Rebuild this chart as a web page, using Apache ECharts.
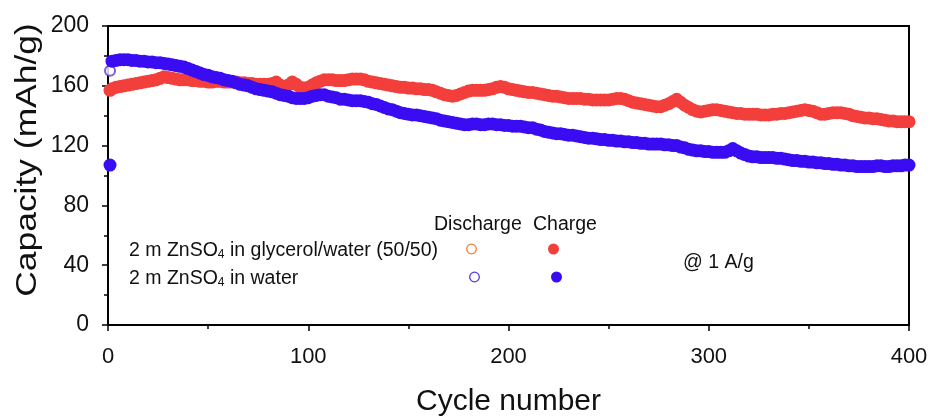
<!DOCTYPE html>
<html>
<head>
<meta charset="utf-8">
<script src="https://cdn.jsdelivr.net/npm/echarts@6/dist/echarts.min.js"></script>
<style>
  html, body { margin: 0; padding: 0; background: #fff; }
  #chart { width: 933px; height: 419px; }
</style>
</head>
<body>
<div id="chart"></div>
<script>
// Cycle numbers at which capacities were sampled
const cycles = [1,
  2, 4, 6, 8, 10, 12, 14, 16, 18, 20,
  22, 24, 26, 28, 30, 32, 34, 36, 38, 40,
  42, 44, 46, 48, 50, 52, 54, 56, 58, 60,
  62, 64, 66, 68, 70, 72, 74, 76, 78, 80,
  82, 84, 86, 88, 90, 92, 94, 96, 98, 100,
  102, 104, 106, 108, 110, 112, 114, 116, 118, 120,
  122, 124, 126, 128, 130, 132, 134, 136, 138, 140,
  142, 144, 146, 148, 150, 152, 154, 156, 158, 160,
  162, 164, 166, 168, 170, 172, 174, 176, 178, 180,
  182, 184, 186, 188, 190, 192, 194, 196, 198, 200,
  202, 204, 206, 208, 210, 212, 214, 216, 218, 220,
  222, 224, 226, 228, 230, 232, 234, 236, 238, 240,
  242, 244, 246, 248, 250, 252, 254, 256, 258, 260,
  262, 264, 266, 268, 270, 272, 274, 276, 278, 280,
  282, 284, 286, 288, 290, 292, 294, 296, 298, 300,
  302, 304, 306, 308, 310, 312, 314, 316, 318, 320,
  322, 324, 326, 328, 330, 332, 334, 336, 338, 340,
  342, 344, 346, 348, 350, 352, 354, 356, 358, 360,
  362, 364, 366, 368, 370, 372, 374, 376, 378, 380,
  382, 384, 386, 388, 390, 392, 394, 396, 398, 400];

// Charge capacity, 2 m ZnSO4 in glycerol/water (50/50), mAh/g
const chargeGlycerol = [157,
  158, 159, 159.5, 160, 160.5, 161, 161.5, 162, 162.5, 163,
  163.5, 164, 165, 166, 165.5, 165, 164.5, 164, 164, 164,
  163.5, 163.5, 163, 163, 162.5, 162.5, 163, 163, 162.5, 162.5,
  162.5, 162.5, 162, 162, 161.5, 161.5, 161, 161, 161, 161,
  161.5, 162.5, 160.5, 159, 160.5, 162.5, 161, 159, 158.5, 159,
  160.5, 162, 163, 164, 164, 164, 163.5, 163.5, 163.5, 164,
  164.5, 164.5, 164.5, 164, 163, 162.5, 162, 161.5, 161, 160.5,
  160, 159.5, 159, 159, 158.5, 158.5, 158, 158, 157.5, 157.5,
  157, 156, 155, 154, 153.5, 153, 153.5, 154.5, 155.5, 156.5,
  157, 157, 157, 157, 157.5, 158, 159, 159.5, 159, 158,
  157.5, 157, 156.5, 156, 155.5, 155.5, 155, 154.5, 154, 153.5,
  153, 153, 152.5, 152, 151.5, 151.5, 151.5, 151.5, 151, 151,
  150.5, 150.5, 150.5, 150.5, 150.5, 151, 151.5, 151.5, 151, 150,
  149, 148.5, 148, 147.5, 147, 146.5, 146, 146, 147, 148,
  149.5, 151, 149, 147, 145.5, 144, 143, 142.5, 143, 143.5,
  144, 144, 143.5, 143, 142.5, 142, 141.5, 141.5, 141, 141,
  141, 141, 140.5, 140.5, 140.5, 141, 141, 141.5, 141.5, 142,
  142.5, 143, 143.5, 144, 143.5, 143, 142, 141, 141, 141.5,
  142, 142, 142, 141.5, 141, 140, 139.5, 139, 138.5, 138.5,
  138, 138, 137.5, 137, 136.5, 136.5, 136, 136, 136, 136];

// Charge capacity, 2 m ZnSO4 in water, mAh/g
const chargeWater = [107,
  176.5, 177, 177.5, 177.5, 177.5, 177, 177, 176.5, 176.5, 176,
  176, 175.5, 175.5, 175, 174.5, 174, 173.5, 173, 172.5, 171.5,
  170.5, 169.5, 168.5, 167.5, 167, 166, 165.5, 165, 164, 163.5,
  163, 162, 161, 160.5, 160, 159, 158, 157.5, 157, 156.5,
  156, 155, 154, 153.5, 153, 152, 151.5, 151.5, 151.5, 152,
  153, 153.5, 154, 154, 153, 152.5, 152, 151, 151, 150.5,
  150, 150, 150, 149.5, 149, 148, 147.5, 146.5, 145.5, 144.5,
  144, 143, 142, 141.5, 141, 140.5, 140.5, 140, 139.5, 139,
  138.5, 138, 137, 136.5, 136, 135.5, 135, 134.5, 134, 134,
  134.5, 134.5, 134, 134, 134.5, 134.5, 134, 134, 133.5, 133.5,
  133, 133, 133, 132.5, 132, 132, 131, 130.5, 129.5, 129,
  128.5, 128, 128, 127.5, 127, 127, 126.5, 126, 125.5, 125,
  125, 124.5, 124, 124, 123.5, 123.5, 123, 123, 122.5, 122.5,
  122, 122, 121.5, 121.5, 121, 121, 121, 121, 120.5, 120.5,
  120, 120, 119, 118.5, 117.5, 117, 116.5, 116.5, 116, 116,
  115.5, 115.5, 115.5, 115.5, 116.5, 118, 116.5, 115, 114, 113,
  112.5, 112.5, 112, 112, 112, 112, 111.5, 111.5, 111, 110.5,
  110, 110, 109.5, 109.5, 109, 109, 108.5, 108.5, 108, 108,
  107.5, 107.5, 107, 107, 106.5, 106.5, 106, 106, 106, 106,
  106, 106.5, 106.5, 106, 106, 106.5, 106.5, 106.5, 107, 107];

// First-cycle discharge capacities
const dischargeCycles = [1];
const dischargeGlycerol = [157];
const dischargeWater = [170];

// Axis ticks
const xTicks = [0, 100, 200, 300, 400];
const yTicks = [0, 40, 80, 120, 160, 200];

const RED = '#f33f3c';
const BLUE = '#3a0cf2';
const ORANGE = '#ee7f33';
const PURPLE = '#5a35e0';
const FONT = 'Liberation Sans, Arial, sans-serif';

const pairs = (xs, ys) => xs.map((x, i) => [x, ys[i]]);

const chart = echarts.init(document.getElementById('chart'), null, { renderer: 'canvas' });

const axisCommon = {
  axisLine: { onZero: false, lineStyle: { color: '#000', width: 2 } },
  axisTick: { inside: false, length: 6, lineStyle: { color: '#000', width: 1.5 } },
  minorTick: { show: true, splitNumber: 2, length: 4, lineStyle: { color: '#000', width: 1.5 } },
  splitLine: { show: false }
};

const subStyle = { fontSize: 12, fontFamily: FONT, fill: '#111', verticalAlign: 'bottom', padding: [8, 0, 0, 0] };

chart.setOption({
  backgroundColor: '#fff',
  animation: false,
  grid: {
    left: 108, right: 24, top: 26, bottom: 94,
    outerBoundsMode: 'none', containLabel: false,
    show: true, borderColor: '#000', borderWidth: 2, backgroundColor: 'transparent'
  },
  xAxis: Object.assign({
    type: 'value',
    min: xTicks[0],
    max: xTicks[xTicks.length - 1],
    interval: xTicks[1] - xTicks[0],
    name: 'Cycle number',
    nameLocation: 'middle',
    nameGap: 62,
    nameTextStyle: { fontFamily: FONT, fontSize: 30, color: '#111' },
    axisLabel: { fontFamily: FONT, fontSize: 22, color: '#111', margin: 21 }
  }, axisCommon),
  yAxis: Object.assign({
    type: 'value',
    min: yTicks[0],
    max: yTicks[yTicks.length - 1],
    interval: yTicks[1] - yTicks[0],
    axisLabel: { fontFamily: FONT, fontSize: 23, color: '#111', margin: 19 }
  }, axisCommon),
  series: [
    {
      name: 'Discharge glycerol/water',
      type: 'scatter',
      data: pairs(dischargeCycles, dischargeGlycerol),
      symbol: 'emptyCircle',
      symbolSize: 10,
      itemStyle: { color: ORANGE, borderColor: ORANGE, borderWidth: 1.2 },
      z: 1
    },
    {
      name: 'Discharge water',
      type: 'scatter',
      data: pairs(dischargeCycles, dischargeWater),
      symbol: 'emptyCircle',
      symbolSize: 10,
      itemStyle: { color: PURPLE, borderColor: PURPLE, borderWidth: 1.2 },
      z: 1
    },
    {
      name: 'Charge glycerol/water',
      type: 'scatter',
      data: pairs(cycles, chargeGlycerol),
      symbolSize: 13,
      itemStyle: { color: RED, opacity: 1 },
      z: 2
    },
    {
      name: 'Charge water',
      type: 'scatter',
      data: pairs(cycles, chargeWater),
      symbolSize: 13,
      itemStyle: { color: BLUE, opacity: 1 },
      z: 3
    }
  ],
  graphic: [
    {
      // y-axis title, drawn rotated
      type: 'text', x: 28, y: 160, rotation: Math.PI / 2, scaleX: 1.18,
      style: { text: 'Capacity (mAh/g)', font: '30px ' + FONT, fill: '#111', align: 'center', verticalAlign: 'middle' }
    },
    {
      type: 'text', left: 129, top: 241,
      style: {
        text: '2 m ZnSO{sub|4} in glycerol/water (50/50)',
        font: '19.5px ' + FONT, fill: '#111',
        rich: { sub: subStyle }
      }
    },
    {
      type: 'text', left: 129, top: 269,
      style: {
        text: '2 m ZnSO{sub|4} in water',
        font: '19.5px ' + FONT, fill: '#111',
        rich: { sub: subStyle }
      }
    },
    { type: 'text', left: 434, top: 215, style: { text: 'Discharge', font: '19.5px ' + FONT, fill: '#111' } },
    { type: 'text', left: 533, top: 215, style: { text: 'Charge', font: '19.5px ' + FONT, fill: '#111' } },
    { type: 'text', left: 683, top: 253, style: { text: '@ 1 A/g', font: '19.5px ' + FONT, fill: '#111' } },
    { type: 'circle', shape: { cx: 471.5, cy: 249, r: 4.8 }, style: { fill: '#fff', stroke: ORANGE, lineWidth: 1.3 } },
    { type: 'circle', shape: { cx: 474.5, cy: 277, r: 4.8 }, style: { fill: '#fff', stroke: PURPLE, lineWidth: 1.3 } },
    { type: 'circle', shape: { cx: 553.5, cy: 249, r: 5.5 }, style: { fill: RED } },
    { type: 'circle', shape: { cx: 556.5, cy: 277, r: 5.5 }, style: { fill: BLUE } }
  ]
});
</script>
</body>
</html>
